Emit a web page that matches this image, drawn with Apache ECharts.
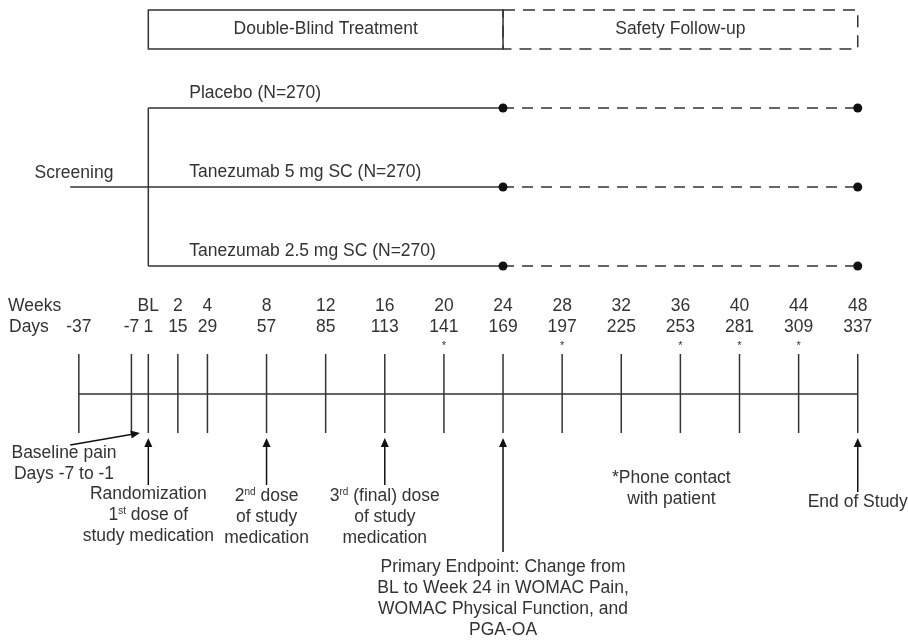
<!DOCTYPE html>
<html>
<head>
<meta charset="utf-8">
<script src="https://cdn.jsdelivr.net/npm/echarts@6/dist/echarts.min.js"></script>
<style>
  html, body { margin: 0; background: #fff; }
  #main { width: 908px; height: 641px; }
</style>
</head>
<body>
<div id="main"></div>
<script>
// visit schedule
const visitDays = [-37, -7, 1, 15, 29, 57, 85, 113, 141, 169, 197, 225, 253, 281, 309, 337];
const visitWeeks = ['', '', 'BL', '2', '4', '8', '12', '16', '20', '24', '28', '32', '36', '40', '44', '48'];
const phoneDays = [141, 197, 253, 281, 309];

// treatment arms / periods
const arms = ['Placebo (N=270)', 'Tanezumab 5 mg SC (N=270)', 'Tanezumab 2.5 mg SC (N=270)'];
const periods = ['Double-Blind Treatment', 'Safety Follow-up'];
const randDay = 1;
const week24Day = 169;
const endDay = 337;

// events under the time line
const eventDays = [1, 57, 113, 169, 337];
const eventNotes = [
  ['Randomization', '1{s|st} dose of', 'study medication'],
  ['2{s|nd} dose', 'of study', 'medication'],
  ['3{s|rd} (final) dose', 'of study', 'medication'],
  ['Primary Endpoint: Change from', 'BL to Week 24 in WOMAC Pain,', 'WOMAC Physical Function, and', 'PGA-OA'],
  ['End of Study']
];

// layout (y in px, the y axis runs 0..641 top-down)
const arrowEnd = [485, 485, 485, 552, 492];
const noteTop = [494, 496, 496, 567, 502];
const armY = [108, 187, 266];
const LINE = '#333';
const TEXT = '#333';
const FONT = '"Liberation Sans", Arial, sans-serif';

// screening period is drawn shortened, like in the source figure
function plotDay(d) {
  return d < -7 ? -7 + (d + 7) * 0.83 : d;
}

const chart = echarts.init(document.getElementById('main'));

function txt(x, y, s, opt) {
  opt = opt || {};
  return {
    type: 'text',
    style: {
      text: s, x: x, y: y,
      fill: TEXT,
      fontFamily: FONT,
      fontSize: opt.size || 17.5,
      align: opt.align || 'center',
      verticalAlign: 'middle',
      rich: { s: { fontSize: 10, verticalAlign: 'top', fontFamily: FONT, fill: TEXT, padding: [0, 0, 8, 0] } }
    }
  };
}

function arrowHead(x1, y1, x2, y2) {
  // head at (x2,y2)
  const a = Math.atan2(y2 - y1, x2 - x1);
  const len = 9, w = 4;
  const bx = x2 - Math.cos(a) * len, by = y2 - Math.sin(a) * len;
  return {
    type: 'polygon',
    shape: { points: [[x2, y2], [bx + Math.sin(a) * w, by - Math.cos(a) * w], [bx - Math.sin(a) * w, by + Math.cos(a) * w]] },
    style: { fill: '#111' }
  };
}

const option = {
  animation: false,
  grid: { left: 0, right: 0, top: 0, bottom: 0 },
  xAxis: { type: 'value', min: -69.24, max: 360.8, show: false },
  yAxis: { type: 'value', min: 0, max: 641, inverse: true, show: false },
  series: [
    // period boxes
    {
      type: 'custom',
      data: [[randDay, week24Day, 0], [week24Day, endDay, 1]],
      renderItem: function (params, api) {
        const p0 = api.coord([api.value(0), 10]);
        const p1 = api.coord([api.value(1), 49]);
        const i = params.dataIndex;
        return {
          type: 'group',
          children: [
            {
              type: 'rect',
              shape: { x: p0[0], y: p0[1], width: p1[0] - p0[0], height: p1[1] - p0[1] },
              style: { fill: 'none', stroke: LINE, lineWidth: 1.5, lineDash: i ? [12, 8] : null }
            },
            txt((p0[0] + p1[0]) / 2, 29, periods[i])
          ]
        };
      }
    },
    // arms
    {
      type: 'custom',
      data: arms.map(function (a, i) { return [randDay, week24Day, endDay, armY[i]]; }),
      renderItem: function (params, api) {
        const y = api.value(3);
        const a = api.coord([api.value(0), y]);
        const b = api.coord([api.value(1), y]);
        const c = api.coord([api.value(2), y]);
        return {
          type: 'group',
          children: [
            { type: 'line', shape: { x1: a[0], y1: y, x2: b[0], y2: y }, style: { stroke: LINE, lineWidth: 1.5 } },
            { type: 'line', shape: { x1: b[0], y1: y, x2: c[0], y2: y }, style: { stroke: LINE, lineWidth: 1.5, lineDash: [11, 8] } },
            { type: 'circle', shape: { cx: b[0], cy: y, r: 4.5 }, style: { fill: '#111' } },
            { type: 'circle', shape: { cx: c[0], cy: y, r: 4.5 }, style: { fill: '#111' } },
            txt(a[0] + 41, y - 15, arms[params.dataIndex], { align: 'left' })
          ]
        };
      }
    },
    // screening + randomisation bracket
    {
      type: 'custom',
      data: [[-36, randDay]],
      renderItem: function (params, api) {
        const s = api.coord([api.value(0), armY[1]]);
        const r = api.coord([api.value(1), armY[1]]);
        return {
          type: 'group',
          children: [
            { type: 'line', shape: { x1: s[0], y1: s[1], x2: r[0], y2: r[1] }, style: { stroke: LINE, lineWidth: 1.5 } },
            { type: 'line', shape: { x1: r[0], y1: armY[0], x2: r[0], y2: armY[2] }, style: { stroke: LINE, lineWidth: 1.5 } },
            txt(74, 173, 'Screening')
          ]
        };
      }
    },
    // time line ticks and labels
    {
      type: 'custom',
      data: visitDays.map(function (d) { return [d]; }),
      renderItem: function (params, api) {
        const d = api.value(0);
        const i = params.dataIndex;
        const x = api.coord([plotDay(d), 0])[0];
        const ch = [
          { type: 'line', shape: { x1: x, y1: 354, x2: x, y2: 433 }, style: { stroke: LINE, lineWidth: 1.5 } },
          txt(x, 306, visitWeeks[i]),
          txt(x, 327, String(d))
        ];
        if (phoneDays.indexOf(d) >= 0) ch.push(txt(x, 346, '*', { size: 11 }));
        if (i === 0) {
          const e = api.coord([plotDay(visitDays[visitDays.length - 1]), 0])[0];
          ch.push({ type: 'line', shape: { x1: x, y1: 394, x2: e, y2: 394 }, style: { stroke: LINE, lineWidth: 1.5 } });
          ch.push(txt(8, 306, 'Weeks', { align: 'left' }));
          ch.push(txt(9, 327, 'Days', { align: 'left' }));
        }
        return { type: 'group', children: ch };
      }
    },
    // event arrows
    {
      type: 'custom',
      data: eventDays.map(function (d) { return [d]; }),
      renderItem: function (params, api) {
        const i = params.dataIndex;
        const x = api.coord([plotDay(api.value(0)), 0])[0];
        const ch = [
          { type: 'line', shape: { x1: x, y1: 444, x2: x, y2: arrowEnd[i] }, style: { stroke: '#111', lineWidth: 1.5 } },
          arrowHead(x, arrowEnd[i], x, 438)
        ];
        eventNotes[i].forEach(function (s, k) {
          ch.push(txt(x, noteTop[i] + k * 21, s));
        });
        return { type: 'group', children: ch };
      }
    },
    // baseline pain and phone contact notes
    {
      type: 'custom',
      data: [[-36, -3]],
      renderItem: function (params, api) {
        const a = api.coord([api.value(0), 445]);
        const b = api.coord([api.value(1), 433]);
        const ph = api.coord([253, 0])[0];
        return {
          type: 'group',
          children: [
            { type: 'line', shape: { x1: a[0], y1: a[1], x2: b[0] - 6, y2: b[1] + 1 }, style: { stroke: '#111', lineWidth: 1.5 } },
            arrowHead(a[0], a[1], b[0], b[1]),
            txt(64, 453, 'Baseline pain'),
            txt(64, 474, 'Days -7 to -1'),
            txt(ph - 9, 478, '*Phone contact'),
            txt(ph - 9, 499, 'with patient')
          ]
        };
      }
    }
  ]
};

chart.setOption(option);
</script>
</body>
</html>
